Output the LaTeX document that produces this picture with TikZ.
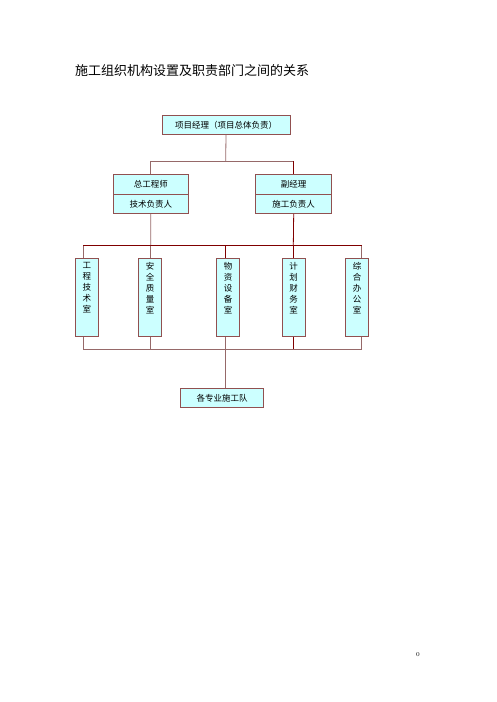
\documentclass[tikz,border=0pt]{standalone}
\usepackage{fontspec}
\newfontfamily\cjk{Noto Sans CJK SC}
\definecolor{boxfill}{RGB}{204,255,255}
\definecolor{boxline}{RGB}{145,80,80}
\definecolor{darkline}{RGB}{128,0,0}
\definecolor{lightline}{RGB}{150,105,105}
\tikzset{
  unit/.style={draw=boxline, fill=boxfill, line width=0.8pt, inner sep=0pt,
    font=\cjk\fontsize{8.5}{10}\selectfont},
  room/.style={unit, minimum width=23pt, minimum height=78.4pt},
  roomtext/.style={anchor=north, align=center, inner sep=0pt, yshift=-4.5pt,
    font=\cjk\fontsize{8.5}{11}\selectfont},
  link/.style={lightline, line width=0.8pt},
  mainlink/.style={darkline, line width=0.8pt}
}
\begin{document}
\begin{tikzpicture}[x=1pt,y=-1pt]
\useasboundingbox (0,0) rectangle (496,702);

% Marking title
\node (title) at (75.000000,71.000000) [anchor=west, inner sep=0pt, font=\cjk\fontsize{13}{13}\selectfont] {施工组织机构设置及职责部门之间的关系};%

% Drawing box pm
\node (pm) at (226.000000,125.000000) [unit, minimum width=128pt, minimum height=18.6pt] {项目经理（项目总体负责）};%

% Drawing box chief
\node (chiefA) at (150.800000,184.200000) [unit, minimum width=75pt, minimum height=20.2pt] {总工程师};%
\node (chiefB) at (150.800000,203.800000) [unit, minimum width=75pt, minimum height=19.2pt] {技术负责人};%

% Drawing box deputy
\node (deputyA) at (293.700000,184.200000) [unit, minimum width=76pt, minimum height=20.2pt] {副经理};%
\node (deputyB) at (293.700000,203.800000) [unit, minimum width=76pt, minimum height=19.2pt] {施工负责人};%

% Drawing boxes b1 ... b5
\node (b1) at (86.800000,297.500000) [room] {};%
\node (t1) at (b1.north) [roomtext] {工\\程\\技\\术\\室};%
\node (b2) at (150.200000,297.500000) [room] {};%
\node (t2) at (b2.north) [roomtext] {安\\全\\质\\量\\室};%
\node (b3) at (228.000000,297.500000) [room] {};%
\node (t3) at (b3.north) [roomtext] {物\\资\\设\\备\\室};%
\node (b4) at (293.500000,297.500000) [room] {};%
\node (t4) at (b4.north) [roomtext] {计\\划\\财\\务\\室};%
\node (b5) at (357.000000,297.500000) [room] {};%
\node (t5) at (b5.north) [roomtext] {综\\合\\办\\公\\室};%

% Drawing box team
\node (team) at (222.000000,397.800000) [unit, minimum width=82.6pt, minimum height=19pt] {各专业施工队};%

% Bus points
\coordinate (topbus) at (225.700000,161.000000);
\coordinate (bus1) at (83.300000,245.700000);
\coordinate (bus2) at (150.700000,245.700000);
\coordinate (bus3) at (225.700000,245.700000);
\coordinate (bus4) at (293.300000,245.700000);
\coordinate (bus5) at (361.700000,245.700000);
\coordinate (low1) at (83.300000,349.000000);
\coordinate (low2) at (150.700000,349.000000);
\coordinate (low3) at (225.700000,349.000000);
\coordinate (low4) at (293.300000,349.000000);
\coordinate (low5) at (361.700000,349.000000);

% Drawing lines pm -- chief, deputy
\draw [link] (pm.south) -- (topbus);%
\draw [link] (chiefA.north) |- (deputyA.north |- topbus);%
\draw [mainlink] (deputyA.north |- topbus) -- (deputyA.north);%

% Drawing lines chief, deputy -- bus
\draw [link] (chiefB.south) -- (bus2);%
\draw [mainlink] (deputyB.south) -- (bus4);%
\draw [mainlink] (bus1) -- (bus5);%

% Drawing lines bus -- boxes
\draw [link] (bus1) -- (bus1 |- b1.north);%
\draw [link] (bus2) -- (bus2 |- b2.north);%
\draw [mainlink] (bus3) -- (bus3 |- b3.north);%
\draw [mainlink] (bus4) -- (bus4 |- b4.north);%
\draw [link] (bus5) -- (bus5 |- b5.north);%

% Drawing lines boxes -- low bus
\draw [link] (low1 |- b1.south) -- (low1);%
\draw [link] (low2 |- b2.south) -- (low2);%
\draw [link] (low3 |- b3.south) -- (low3);%
\draw [mainlink] (low4 |- b4.south) -- (low4);%
\draw [link] (low5 |- b5.south) -- (low5);%
\draw [link] (low1) -- (low5);%

% Drawing line low bus -- team
\draw [link] (low3) -- (low3 |- team.north);%

% Marking page number
\node (pageno) at (418.000000,655.000000) [inner sep=0pt, font=\fontsize{6}{6}\selectfont] {0};%
\end{tikzpicture}
\end{document}
